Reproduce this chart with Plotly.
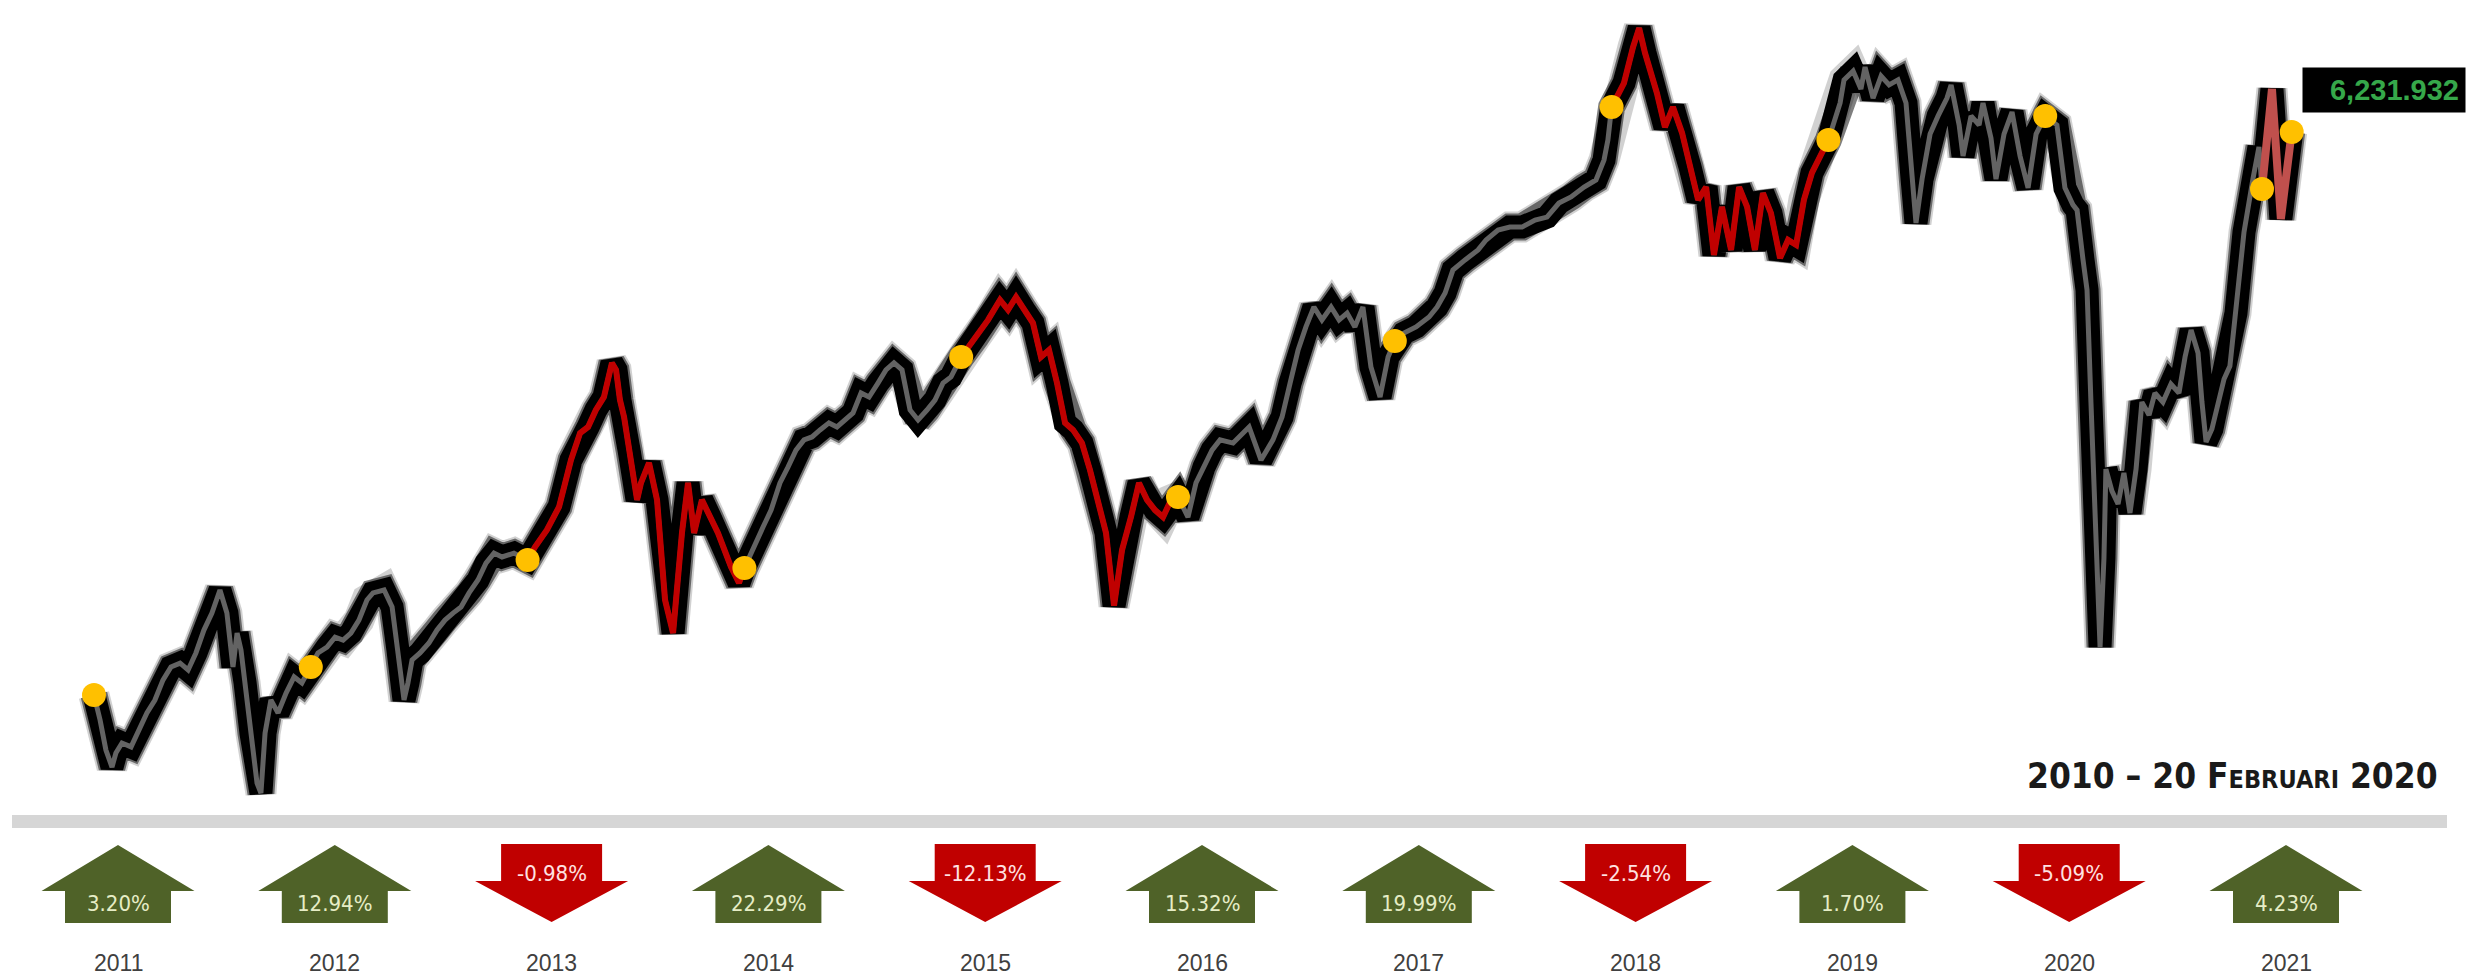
import plotly.graph_objects as go

# ---------------- data ----------------
# time in fractional years, IHSG closing level
t = [2011.000, 2011.028, 2011.055, 2011.083, 2011.101, 2011.129, 2011.171, 2011.208, 2011.244, 2011.281,
     2011.318, 2011.355, 2011.397, 2011.434, 2011.470, 2011.507, 2011.544, 2011.581, 2011.613, 2011.641,
     2011.660, 2011.678, 2011.697, 2011.724, 2011.752, 2011.770, 2011.789, 2011.816, 2011.849, 2011.886,
     2011.923, 2011.959,
     2012.000, 2012.033, 2012.075, 2012.112, 2012.149, 2012.185, 2012.222, 2012.259, 2012.287, 2012.338,
     2012.375, 2012.402, 2012.430, 2012.448, 2012.467, 2012.504, 2012.545, 2012.582, 2012.619, 2012.656,
     2012.693, 2012.730, 2012.771, 2012.808, 2012.845, 2012.882, 2012.937,
     2013.000, 2013.034, 2013.089, 2013.145, 2013.200, 2013.242, 2013.279, 2013.315, 2013.352, 2013.389,
     2013.408, 2013.426, 2013.445, 2013.468, 2013.505, 2013.523, 2013.560, 2013.597, 2013.634, 2013.671,
     2013.712, 2013.740, 2013.768, 2013.804, 2013.841, 2013.878, 2013.938, 2013.975,
     2014.000, 2014.049, 2014.086, 2014.123, 2014.164, 2014.201, 2014.238, 2014.275, 2014.312, 2014.349,
     2014.390, 2014.427, 2014.464, 2014.501, 2014.538, 2014.575, 2014.616, 2014.653, 2014.690, 2014.727,
     2014.764, 2014.801, 2014.842, 2014.879, 2014.916, 2014.953,
     2015.000, 2015.068, 2015.124, 2015.179, 2015.216, 2015.253, 2015.290, 2015.331, 2015.368, 2015.405,
     2015.442, 2015.479, 2015.516, 2015.557, 2015.594, 2015.631, 2015.668, 2015.705, 2015.742, 2015.783,
     2015.820, 2015.857, 2015.894, 2015.931, 2015.968,
     2016.000, 2016.046, 2016.083, 2016.120, 2016.157, 2016.194, 2016.254, 2016.328, 2016.383, 2016.438,
     2016.480, 2016.517, 2016.554, 2016.590, 2016.627, 2016.664, 2016.706, 2016.743, 2016.780, 2016.816,
     2016.853, 2016.890, 2016.932, 2016.969,
     2017.000, 2017.042, 2017.098, 2017.158, 2017.195, 2017.232, 2017.268, 2017.324, 2017.384, 2017.421,
     2017.476, 2017.531, 2017.587, 2017.647, 2017.702, 2017.757, 2017.813, 2017.873, 2017.928, 2017.965,
     2017.983,
     2018.000, 2018.057, 2018.099, 2018.127, 2018.154, 2018.173, 2018.209, 2018.246, 2018.283, 2018.325,
     2018.362, 2018.399, 2018.436, 2018.472, 2018.509, 2018.551, 2018.588, 2018.625, 2018.661, 2018.698,
     2018.735, 2018.777, 2018.814, 2018.851, 2018.887, 2018.924,
     2019.000, 2019.054, 2019.072, 2019.114, 2019.150, 2019.169, 2019.206, 2019.243, 2019.280, 2019.321,
     2019.358, 2019.386, 2019.404, 2019.432, 2019.469, 2019.506, 2019.547, 2019.566, 2019.603, 2019.621,
     2019.658, 2019.695, 2019.713, 2019.750, 2019.773, 2019.810, 2019.847, 2019.884, 2019.921, 2019.958,
     2020.000, 2020.054, 2020.091, 2020.128, 2020.147, 2020.174, 2020.193, 2020.211, 2020.234, 2020.253,
     2020.271, 2020.280, 2020.308, 2020.336, 2020.363, 2020.391, 2020.419, 2020.446, 2020.479, 2020.506,
     2020.543, 2020.580, 2020.617, 2020.645, 2020.673, 2020.705, 2020.723, 2020.742, 2020.769, 2020.797,
     2020.825, 2020.852, 2020.880, 2020.917, 2020.958, 2020.986,
     2021.000, 2021.046, 2021.087, 2021.137]

ihsg = [3725, 3615, 3482, 3407, 3469, 3513, 3496, 3571, 3646, 3703,
        3791, 3849, 3866, 3836, 3911, 4012, 4087, 4189, 4087, 3849,
        3999, 3924, 3778, 3557, 3336, 3292, 3557, 3703, 3646, 3734,
        3805, 3778,
        3849, 3911, 3937, 3981, 3968, 3999, 4056, 4145, 4176, 4189,
        4114, 3924, 3703, 3778, 3880, 3911, 3955, 4012, 4056, 4087,
        4114, 4176, 4233, 4308, 4352, 4335, 4352,
        4321, 4379, 4454, 4556, 4763, 4882, 4909, 4984, 5041, 5192,
        5161, 5028, 4953, 4807, 4587, 4662, 4750, 4587, 4145, 3999,
        4441, 4662, 4441, 4587, 4511, 4441, 4291, 4220,
        4286, 4397, 4467, 4542, 4662, 4732, 4807, 4852, 4865, 4896,
        4927, 4909, 4940, 4971, 5059, 5041, 5103, 5161, 5192, 5161,
        4984, 4940, 4984, 5028, 5103, 5130,
        5218, 5306, 5382, 5470, 5426, 5483, 5426, 5368, 5218, 5249,
        5103, 4927, 4896, 4838, 4719, 4587, 4441, 4120, 4366, 4511,
        4662, 4587, 4542, 4511, 4587,
        4600, 4511, 4662, 4732, 4807, 4852, 4838, 4909, 4763, 4852,
        4953, 5103, 5249, 5351, 5439, 5382, 5439, 5382, 5412, 5351,
        5439, 5174, 5041, 5218,
        5289, 5324, 5351, 5395, 5439, 5501, 5602, 5647, 5691, 5735,
        5779, 5792, 5792, 5823, 5836, 5898, 5925, 5969, 6000, 6088,
        6177,
        6322, 6428, 6587, 6671, 6561, 6499, 6384, 6234, 6322, 6208,
        6057, 5912, 5969, 5669, 5881, 5691, 5969, 5881, 5691, 5942,
        5854, 5655, 5735, 5713, 5912, 6031,
        6177, 6340, 6442, 6481, 6402, 6499, 6362, 6459, 6420, 6442,
        6340, 6004, 5810, 6004, 6203, 6283, 6362, 6420, 6243, 6106,
        6283, 6243, 6340, 6185, 6004, 6203, 6300, 6106, 5965, 6203,
        6283, 6243, 5965, 5890, 5867, 5651, 5514, 5019, 4428, 3937,
        4330, 4723, 4626, 4569, 4706, 4529, 4723, 5019, 4962, 5059,
        5019, 5099, 5059, 5218, 5337, 5236, 5019, 4843, 4900, 5019,
        5121, 5178, 5412, 5770, 6004, 6146,
        5960, 6402, 5828, 6212]

# year-open markers (+ last point, 20 Feb)
open_t = [2011.0, 2012.0, 2013.0, 2014.0, 2015.0, 2016.0, 2017.0, 2018.0, 2019.0, 2020.0, 2021.0, 2021.137]
open_v = [3725, 3849, 4321, 4286, 5218, 4600, 5289, 6322, 6177, 6283, 5960, 6212]

years = [2011, 2012, 2013, 2014, 2015, 2016, 2017, 2018, 2019, 2020, 2021]
returns = [3.20, 12.94, -0.98, 22.29, -12.13, 15.32, 19.99, -2.54, 1.70, -5.09, 4.23]
red_years = [2013, 2015, 2018]
pink_years = [2021]
last_label = "6,231.932"
period_label = "2010 – 20 Februari 2020"

# ---------------- layout helpers ----------------
W, H = 2466, 978
X0_PX, PX_PER_YEAR = 94, 216.8
x_range = [2011 - X0_PX / PX_PER_YEAR, 2011 + (W - X0_PX) / PX_PER_YEAR]
y_range = [2475.2, 6795]


def py(p):
    return 1 - p / H


def dx(px):
    return px / PX_PER_YEAR


GREEN = "#4f6228"
RED = "#c00000"

fig = go.Figure()

# glow (black soft outline)
for w, a in [(31, 0.18), (27, 0.5), (23, 1.0)]:
    fig.add_trace(go.Scatter(x=t, y=ihsg, mode="lines",
                             line=dict(color=f"rgba(0,0,0,{a})", width=w),
                             hoverinfo="skip", showlegend=False))

# gray main line
gt = [a for a in t if a <= 2021.0]
gv = [v for a, v in zip(t, ihsg) if a <= 2021.0]
fig.add_trace(go.Scatter(x=gt, y=gv, mode="lines",
                         line=dict(color="#636363", width=5), hoverinfo="skip", showlegend=False))

# red years
for yr in red_years:
    st = [a for a in t if yr <= a <= yr + 1]
    sv = [v for a, v in zip(t, ihsg) if yr <= a <= yr + 1]
    fig.add_trace(go.Scatter(x=st, y=sv, mode="lines",
                             line=dict(color=RED, width=6), hoverinfo="skip", showlegend=False))

for yr in pink_years:
    st = [a for a in t if a >= yr]
    sv = [v for a, v in zip(t, ihsg) if a >= yr]
    fig.add_trace(go.Scatter(x=st, y=sv, mode="lines",
                             line=dict(color="#c0504d", width=8), hoverinfo="skip", showlegend=False))

# year-open dots
fig.add_trace(go.Scatter(x=open_t, y=open_v, mode="markers",
                         marker=dict(color="#ffc000", size=24, line=dict(width=0)),
                         hoverinfo="skip", showlegend=False))

shapes = []
annotations = []

# base gray bar
shapes.append(dict(type="rect", xref="paper", yref="paper",
                   x0=12 / W, x1=2447 / W, y0=py(828), y1=py(815),
                   fillcolor="#d6d6d6", line=dict(width=0), layer="below"))

# arrows
for yr, r in zip(years, returns):
    cx = yr + dx(24)
    hh = dx(76.5)
    if r >= 0:
        hs = dx(53)
        tip, base, bot = py(845), py(891), py(923)
        path = (f"M {cx-hh},{base} L {cx},{tip} L {cx+hh},{base} L {cx+hs},{base} "
                f"L {cx+hs},{bot} L {cx-hs},{bot} L {cx-hs},{base} Z")
        color = GREEN
        ty = py(903)
        tcol = "#e6edc6"
    else:
        hs = dx(50.5)
        top, head, tip = py(844), py(881), py(922)
        path = (f"M {cx-hs},{top} L {cx+hs},{top} L {cx+hs},{head} L {cx+hh},{head} "
                f"L {cx},{tip} L {cx-hh},{head} L {cx-hs},{head} Z")
        color = RED
        ty = py(873)
        tcol = "#ffe2e2"
    shapes.append(dict(type="path", xref="x", yref="paper", path=path,
                       fillcolor=color, line=dict(width=0)))
    annotations.append(dict(x=cx, y=ty, xref="x", yref="paper", text=f"{r:.2f}%",
                            showarrow=False, xanchor="center", yanchor="middle",
                            font=dict(family="DejaVu Sans Condensed, Liberation Sans, Arial", size=22, color=tcol)))
    annotations.append(dict(x=cx, y=py(963), xref="x", yref="paper", text=str(yr),
                            showarrow=False, xanchor="center", yanchor="middle",
                            font=dict(family="Liberation Sans, Arial", size=23, color="#404040")))

# period label
annotations.append(dict(x=2440 / W, y=py(776), xref="paper", yref="paper", text=period_label,
                        showarrow=False, xanchor="right", yanchor="middle",
                        font=dict(family="DejaVu Sans Condensed, sans-serif",
                                  size=35, color="#1a1a1a", weight="bold", variant="small-caps")))

# last value label
annotations.append(dict(x=1, y=py(90), xref="paper", yref="paper", text=f"<b>{last_label}</b>",
                        showarrow=False, xanchor="right", yanchor="middle", align="right",
                        width=150, bgcolor="black", borderpad=6,
                        font=dict(family="Liberation Sans, Arial", size=29, color="#36a84a")))

fig.update_layout(
    width=W, height=H,
    margin=dict(l=0, r=0, t=0, b=0),
    paper_bgcolor="white", plot_bgcolor="white",
    xaxis=dict(range=x_range, visible=False, fixedrange=True),
    yaxis=dict(range=y_range, visible=False, fixedrange=True),
    shapes=shapes, annotations=annotations, showlegend=False,
)

fig.write_html("out.html")
